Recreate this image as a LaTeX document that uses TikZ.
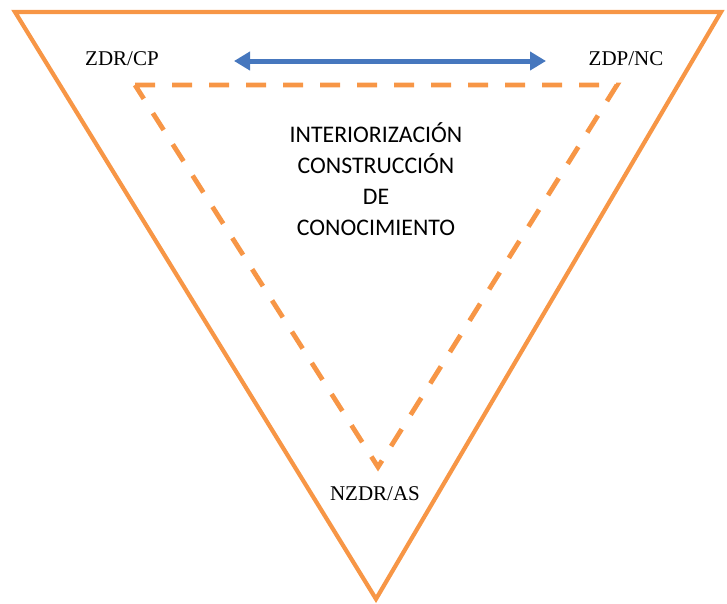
\documentclass[tikz,border=0pt]{standalone}
\usepackage{fontspec}
\setmainfont{Liberation Serif}
\newfontfamily\calib{Carlito}
\usetikzlibrary{arrows.meta}
\definecolor{orng}{HTML}{F79646}
\definecolor{blu}{HTML}{4677BE}
\begin{document}
\begin{tikzpicture}[x=1pt,y=-1pt,
  outer/.style={draw=orng,line width=4.2pt,line join=miter},
  inner/.style={draw=orng,line width=4.8pt,dash pattern=on 20pt off 17pt},
  lbl/.style={inner sep=0pt,font=\fontsize{21}{25}\selectfont},
  ctr/.style={inner sep=0pt,align=center,font=\calib\fontsize{23.8}{31}\selectfont}]
\useasboundingbox (0,0) rectangle (727,603);
\coordinate (A) at (15,12);
\coordinate (B) at (721,12);
\coordinate (C) at (376,599);
\coordinate (D) at (135,85);
\coordinate (E) at (617,85);
\coordinate (F) at (378,467);
\draw[outer] (A) -- (B) -- (C) -- cycle;
\draw[inner] (D) -- (E) -- (F) -- cycle;
\coordinate (L) at (234,61);
\coordinate (R) at (546,61);
\draw[blu,line width=5pt,{Triangle[length=16pt,width=18pt]}-{Triangle[length=16pt,width=18pt]}] (L) -- (R);
\node[lbl] (zdr) at (122,59) {ZDR/CP};
\node[lbl] (zdp) at (626,59) {ZDP/NC};
\node[lbl] (nz) at (375,494) {NZDR/AS};
\node[ctr] (c) at (376,179) {INTERIORIZACIÓN\\CONSTRUCCIÓN\\DE\\CONOCIMIENTO};
\end{tikzpicture}
\end{document}
